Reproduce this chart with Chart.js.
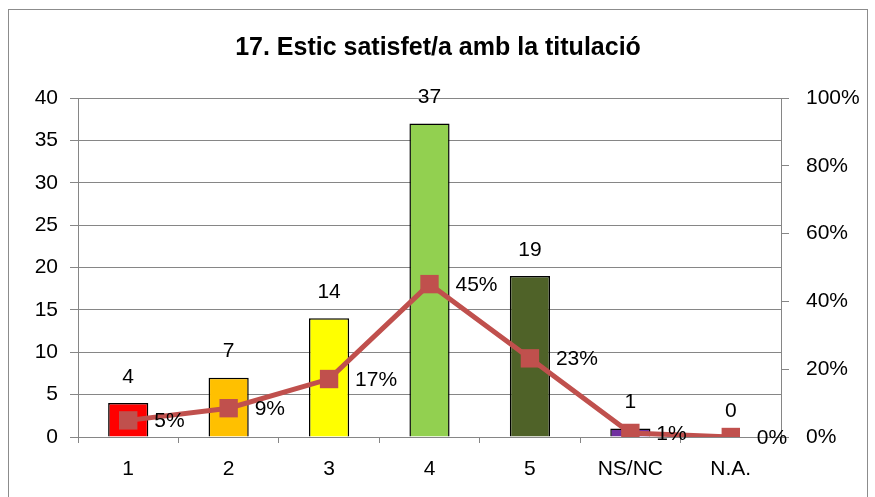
<!DOCTYPE html>
<html>
<head>
<meta charset="utf-8">
<script src="https://cdn.jsdelivr.net/npm/chart.js@4"></script>
<style>
  html, body { margin: 0; padding: 0; background: #fff; }
  #wrap { width: 875px; height: 497px; }
</style>
</head>
<body>
<div id="wrap"><canvas id="chart"></canvas></div>
<script>
const categories = ['1', '2', '3', '4', '5', 'NS/NC', 'N.A.'];
const counts = [4, 7, 14, 37, 19, 1, 0];
const percents = [4.9, 8.5, 17.1, 45.1, 23.2, 1.2, 0];
const percentLabels = ['5%', '9%', '17%', '45%', '23%', '1%', '0%'];
const barColors = ['#FF0000', '#FFC000', '#FFFF00', '#92D050', '#4F6228', '#7030A0', '#4F81BD'];
const title = '17. Estic satisfet/a amb la titulació';

const FONT = '"Liberation Sans", Arial, sans-serif';

// draws the value labels, title and outer frame
const extras = {
  id: 'extras',
  afterDatasetsDraw(chart) {
    const ctx = chart.ctx;
    ctx.save();
    ctx.fillStyle = '#000';
    ctx.font = '21px ' + FONT;
    ctx.textAlign = 'center';
    ctx.textBaseline = 'middle';
    chart.getDatasetMeta(1).data.forEach((bar, i) => {
      ctx.fillText(String(counts[i]), bar.x, bar.y - 26);
    });
    ctx.textAlign = 'left';
    chart.getDatasetMeta(0).data.forEach((pt, i) => {
      ctx.fillText(percentLabels[i], pt.x + 26, pt.y + 1);
    });
    ctx.restore();
  },
  afterDraw(chart) {
    const ctx = chart.ctx;
    ctx.save();
    ctx.strokeStyle = '#8c8c8c';
    ctx.lineWidth = 1;
    ctx.strokeRect(8.5, 9.5, 859, 500);
    ctx.fillStyle = '#000';
    ctx.font = 'bold 25px ' + FONT;
    ctx.textAlign = 'center';
    ctx.textBaseline = 'middle';
    ctx.fillText(title, 438, 48);
    ctx.restore();
  }
};

new Chart(document.getElementById('chart'), {
  data: {
    labels: categories,
    datasets: [
      {
        type: 'line',
        data: percents,
        yAxisID: 'y2',
        borderColor: '#C0504D',
        backgroundColor: '#C0504D',
        borderWidth: 5,
        pointStyle: 'rect',
        pointRadius: 13,
        pointHoverRadius: 13,
        pointBorderWidth: 0,
        tension: 0,
        order: 0
      },
      {
        type: 'bar',
        data: counts,
        yAxisID: 'y',
        backgroundColor: barColors,
        borderColor: '#000',
        borderWidth: 1.5,
        categoryPercentage: 1,
        barPercentage: 0.4,
        order: 1
      }
    ]
  },
  options: {
    responsive: true,
    maintainAspectRatio: false,
    animation: false,
    layout: { padding: { top: 98, left: 0, right: 0, bottom: 0 } },
    plugins: {
      legend: { display: false },
      tooltip: { enabled: false }
    },
    scales: {
      x: {
        offset: true,
        grid: { display: true, drawOnChartArea: false, drawTicks: true, tickLength: 6, color: '#868686', offset: true },
        border: { color: '#868686', width: 1 },
        ticks: { color: '#000', font: { family: FONT, size: 21 }, padding: 14 },
        afterFit(s) { s.height = 60; }
      },
      y: {
        position: 'left',
        min: 0,
        max: 40,
        ticks: { stepSize: 5, color: '#000', font: { family: FONT, size: 21 }, padding: 12 },
        grid: { color: '#868686', tickLength: 8 },
        border: { color: '#868686' },
        afterFit(s) { s.width = 78; }
      },
      y2: {
        position: 'right',
        min: 0,
        max: 100,
        ticks: { stepSize: 20, color: '#000', font: { family: FONT, size: 21 }, padding: 17, callback: v => v + '%' },
        grid: { drawOnChartArea: false, color: '#868686', tickLength: 8 },
        border: { color: '#868686' },
        afterFit(s) { s.width = 94; }
      }
    }
  },
  plugins: [extras]
});
</script>
</body>
</html>
